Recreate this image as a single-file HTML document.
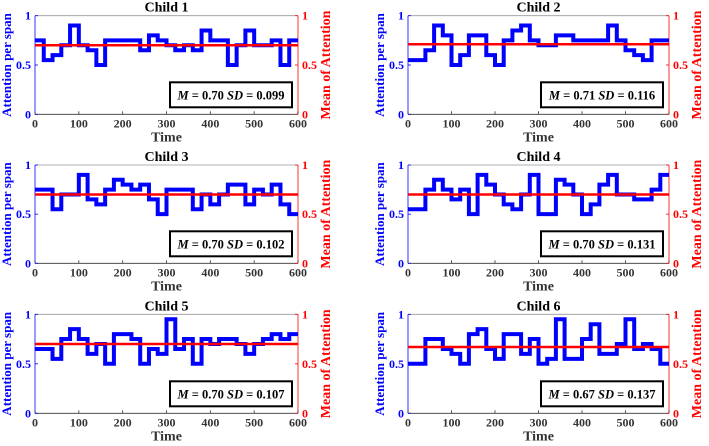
<!DOCTYPE html>
<html><head><meta charset="utf-8">
<style>
html,body{margin:0;padding:0;background:#fff;}
svg{display:block;}
svg text{font-family:"Liberation Serif","Times New Roman",serif;font-weight:bold;}
</style></head>
<body>
<svg id="chart" width="709" height="446" viewBox="0 0 709 446" xmlns="http://www.w3.org/2000/svg" font-family="Liberation Serif, serif" font-weight="bold"></svg>
<script>
const childNames = ["Child 1","Child 2","Child 3","Child 4","Child 5","Child 6"];
const c1 = [.75,.55,.6,.7,.9,.7,.65,.5,.75,.75,.75,.75,.65,.8,.75,.7,.65,.7,.65,.85,.75,.75,.5,.7,.85,.7,.7,.75,.5,.75];
const c2 = [.55,.55,.65,.9,.8,.5,.6,.8,.8,.6,.5,.75,.85,.9,.75,.7,.7,.8,.8,.75,.75,.75,.75,.9,.75,.65,.6,.55,.75,.75];
const c3 = [.75,.75,.55,.7,.7,.9,.65,.6,.75,.85,.8,.75,.8,.65,.5,.75,.75,.75,.55,.7,.6,.7,.8,.8,.6,.75,.7,.8,.6,.5];
const c4 = [.55,.55,.75,.85,.75,.65,.75,.5,.9,.8,.7,.6,.55,.7,.9,.5,.5,.85,.8,.7,.5,.6,.8,.9,.7,.7,.65,.65,.75,.9];
const c5 = [.65,.65,.55,.75,.85,.75,.6,.7,.5,.8,.8,.75,.5,.65,.6,.95,.65,.75,.5,.75,.7,.75,.75,.7,.6,.7,.75,.8,.75,.8];
const c6 = [.5,.5,.75,.75,.65,.6,.5,.8,.85,.65,.55,.8,.8,.6,.75,.5,.55,.95,.55,.55,.75,.9,.6,.6,.7,.95,.65,.7,.65,.5];
const seriesList = [c1,c2,c3,c4,c5,c6];
const means = [0.70,0.71,0.70,0.70,0.70,0.67];
const meanLabels = ["0.70","0.71","0.70","0.70","0.70","0.67"];
const sdLabels = ["0.099","0.116","0.102","0.131","0.107","0.137"];
const xTicks = [0,100,200,300,400,500,600];
const yTicks = [0,0.5,1];
const yTickLabels = ["0","0.5","1"];
const stepWidth = 20;

const NS="http://www.w3.org/2000/svg";
const svg=document.getElementById('chart');
const FF='Liberation Serif, Times New Roman, serif';
function el(tag,attrs,parent,text){const e=document.createElementNS(NS,tag);for(const k in attrs)e.setAttribute(k,attrs[k]);if(tag==='text'){e.setAttribute('font-family',FF);e.setAttribute('font-weight','bold');}if(text!==undefined)e.textContent=text;(parent||svg).appendChild(e);return e;}

const cols=[{x0:35,x1:298},{x0:408,x1:669}];
const rows=[{top:15.7,bot:114.3},{top:165,bot:263.3},{top:314.3,bot:413.3}];

seriesList.forEach((data,i)=>{
  const col=cols[i%2], row=rows[Math.floor(i/2)];
  const xs=v=>col.x0+(v/600)*(col.x1-col.x0);
  const ys=v=>row.bot-v*(row.bot-row.top);
  const g=el('g',{});
  
  
  const t=el('text',{x:(col.x0+col.x1)/2,y:row.top-4,'text-anchor':'middle','font-size':14,fill:'#000'},g,childNames[i]);
  
  
  el('line',{x1:col.x0,y1:row.top,x2:col.x1,y2:row.top,stroke:'#999','stroke-width':0.8},g);
  el('line',{x1:col.x0,y1:row.bot,x2:col.x1,y2:row.bot,stroke:'#333','stroke-width':0.8},g);
  el('line',{x1:col.x0,y1:row.top,x2:col.x0,y2:row.bot,stroke:'#00f','stroke-width':0.8},g);
  el('line',{x1:col.x1,y1:row.top,x2:col.x1,y2:row.bot,stroke:'#f00','stroke-width':0.8},g);
  xTicks.forEach(v=>{
    el('line',{x1:xs(v),y1:row.bot,x2:xs(v),y2:row.bot-3,stroke:'#333','stroke-width':0.8},g);
    const tl=el('text',{x:xs(v),y:row.bot+13,'text-anchor':'middle','font-size':12,fill:'#333'},g,String(v));
    
    
  });
  yTicks.forEach((v,k)=>{
    el('line',{x1:col.x0,y1:ys(v),x2:col.x0+3,y2:ys(v),stroke:'#00f','stroke-width':0.8},g);
    el('line',{x1:col.x1,y1:ys(v),x2:col.x1-3,y2:ys(v),stroke:'#f00','stroke-width':0.8},g);
    const l=el('text',{x:col.x0-4,y:ys(v)+4,'text-anchor':'end','font-size':12,fill:'#00f'},g,yTickLabels[k]);
    
    
    const r=el('text',{x:col.x1+4,y:ys(v)+4,'text-anchor':'start','font-size':12,fill:'#f00'},g,yTickLabels[k]);
    
    
  });
  const xl=el('text',{x:(col.x0+col.x1)/2,y:row.bot+27,'text-anchor':'middle','font-size':14,fill:'#333'},g,'Time');
  
  
  const cy=(row.top+row.bot)/2;
  const ly=el('text',{x:0,y:0,transform:`translate(${col.x0-24},${cy}) rotate(-90)`,'text-anchor':'middle','font-size':13,fill:'#00f'},g,'Attention per span');
  
  
  const ry=el('text',{x:0,y:0,transform:`translate(${col.x1+32},${cy}) rotate(-90)`,'text-anchor':'middle','font-size':14,fill:'#f00'},g,'Mean of Attention');
  
  
  let d='';
  data.forEach((v,k)=>{
    const xa=xs(k*stepWidth), xb=xs((k+1)*stepWidth), y=ys(v);
    d+=(k===0?'M':'L')+xa+' '+y+' L'+xb+' '+y+' ';
  });
  const p=el('path',{d:d,fill:'none',stroke:'#00f','stroke-width':4,'stroke-linejoin':'miter'},g);
  
  
  const m=el('line',{x1:col.x0,y1:ys(means[i]),x2:col.x1,y2:ys(means[i]),stroke:'#f00','stroke-width':2.5},g);
  
  
  const bx=col.x1-128, by=row.bot-32;
  const sb=el('rect',{x:bx,y:by,width:122,height:25,fill:'#fff',stroke:'#000','stroke-width':2},g);
  
  
  const st=el('text',{x:bx+61,y:by+17,'text-anchor':'middle','font-size':12.5,fill:'#000'},g);
  
  
  el('tspan',{'font-style':'italic'},st,'M');
  el('tspan',{},st,' =  '+meanLabels[i]+' ');
  el('tspan',{'font-style':'italic'},st,'SD');
  el('tspan',{},st,' = '+sdLabels[i]);
});
</script>
</body></html>
